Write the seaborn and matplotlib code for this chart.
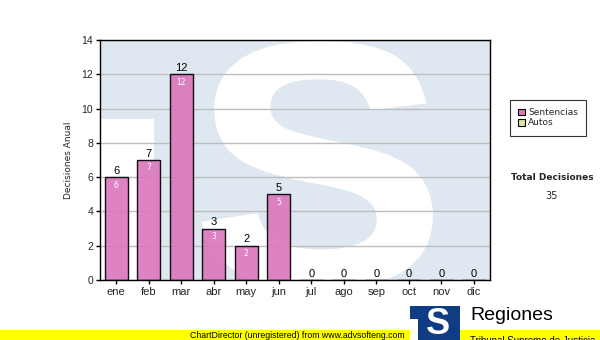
import numpy as np
import pandas as pd
import matplotlib
matplotlib.use("Agg")
import matplotlib.pyplot as plt
import seaborn as sns
from matplotlib.textpath import TextPath
from matplotlib.font_manager import FontProperties
from matplotlib.patches import PathPatch, Rectangle, Patch
from matplotlib.transforms import Affine2D

months = ["ene", "feb", "mar", "abr", "may", "jun", "jul", "ago", "sep", "oct", "nov", "dic"]
sentencias = [6, 7, 12, 3, 2, 5, 0, 0, 0, 0, 0, 0]
autos = [0, 0, 0, 0, 0, 0, 0, 0, 0, 0, 0, 0]
y_ticks = [0, 2, 4, 6, 8, 10, 12, 14]
total = 35

sns.set_theme(style="white")
plt.rcParams["font.family"] = ["Liberation Sans", "DejaVu Sans"]

W, H = 600, 340
fig = plt.figure(figsize=(6, 3.4), dpi=100)
ax = fig.add_axes([100 / W, (H - 280) / H, 390 / W, 240 / H])
ax.set_facecolor("#dfe8f1")

# watermark: white left block and big white S
ax.add_patch(Rectangle((0, 0), 0.138, 0.671, transform=ax.transAxes,
                       facecolor="white", edgecolor="none", zorder=0.1))
tp = TextPath((0, 0), "S", prop=FontProperties(family="Liberation Sans", weight="bold"), size=1)
ext = tp.get_extents()
x0, x1, y0, y1 = 0.265, 0.85, -0.035, 0.99
tr = (Affine2D().translate(-ext.x0, -ext.y0)
      .scale((x1 - x0) / ext.width, (y1 - y0) / ext.height)
      .translate(x0, y0))
sp = PathPatch(tr.transform_path(tp), facecolor="white", edgecolor="white",
               linewidth=2, transform=ax.transAxes, zorder=0.1)
ax.add_patch(sp)
sp.set_clip_path(ax.patch)

df = pd.DataFrame({"mes": months, "Sentencias": sentencias, "Autos": autos})
sns.barplot(data=df, x="mes", y="Sentencias", ax=ax, color="#dc78bc", alpha=0.92,
            width=0.71, edgecolor="black", linewidth=1.0, saturation=1, zorder=2)
sns.barplot(data=df, x="mes", y="Autos", ax=ax, color="#d8e8a0", width=0.71,
            bottom=sentencias, linewidth=0, saturation=1, zorder=2)

for i, v in enumerate(sentencias):
    ax.annotate(str(v), (i, v), xytext=(0, 1), textcoords="offset points",
                ha="center", va="bottom", fontsize=8, color="black", zorder=5)
    if v > 0:
        ax.annotate(str(v), (i, v), xytext=(0, -2.5), textcoords="offset points",
                    ha="center", va="top", fontsize=5.5, color="white",
                    family="DejaVu Sans", zorder=5)

ax.set_xlim(-0.5, 11.5)
ax.set_ylim(0, 14)
ax.set_yticks(y_ticks)
ax.set_yticklabels([str(t) for t in y_ticks])
ax.yaxis.grid(True, color="#bdbdbd", linewidth=1)
ax.set_axisbelow(True)
ax.tick_params(axis="both", direction="out", length=3, width=1, color="black",
               labelsize=7.5, pad=2, left=True, bottom=True)
ax.tick_params(axis="x", labelsize=8)
ax.set_xlabel("")
ax.set_ylabel("Decisiones Anual", fontsize=6.5, family="DejaVu Sans", labelpad=6)
for s in ax.spines.values():
    s.set_visible(True)
    s.set_color("black")
    s.set_linewidth(1)

# legend
handles = [Patch(facecolor="#dc78bc", edgecolor="black", linewidth=0.8, label="Sentencias"),
           Patch(facecolor="#d8e8a0", edgecolor="black", linewidth=0.8, label="Autos")]
leg = fig.legend(handles=handles, loc="upper left", bbox_to_anchor=(510 / W, 1 - 100 / H),
                 frameon=True, fancybox=False, edgecolor="black",
                 prop={"family": "DejaVu Sans", "size": 6.5},
                 handlelength=0.8, handleheight=0.8, handletextpad=0.3,
                 borderpad=0.9, labelspacing=0.15, borderaxespad=0)
leg.get_frame().set_linewidth(0.8)

fig.text(552 / W, 1 - 178 / H, "Total Decisiones", ha="center", va="center",
         fontsize=6.5, weight="bold", family="DejaVu Sans")
fig.text(552 / W, 1 - 196 / H, str(total), ha="center", va="center",
         fontsize=7, family="DejaVu Sans")

# bottom band
fig.patches.append(Rectangle((0, 0), 1, 10 / H, transform=fig.transFigure,
                             facecolor="#ffff00", edgecolor="none", zorder=1))
fig.text(190 / W, 5 / H, "ChartDirector (unregistered) from www.advsofteng.com",
         ha="left", va="center", fontsize=6.3, color="black", zorder=2)

# logo
fig.patches.append(Rectangle((410 / W, 0), 50 / W, 34 / H, transform=fig.transFigure,
                             facecolor="#0f3c82", edgecolor="none", zorder=3))
fig.patches.append(Rectangle((410 / W, 0), 8 / W, 21 / H, transform=fig.transFigure,
                             facecolor="white", edgecolor="none", zorder=4))
fig.text(438 / W, 16 / H, "S", ha="center", va="center", fontsize=26, weight="bold",
         color="white", family="Liberation Sans", zorder=5)
fig.text(470 / W, 1 - 315 / H, "Regiones", ha="left", va="center", fontsize=14,
         color="black", zorder=5)
fig.text(470 / W, 1 - 336 / H, "Tribunal Supremo de Justicia", ha="left", va="top",
         fontsize=7, color="black", zorder=5)

fig.savefig("out.png", dpi=100)
